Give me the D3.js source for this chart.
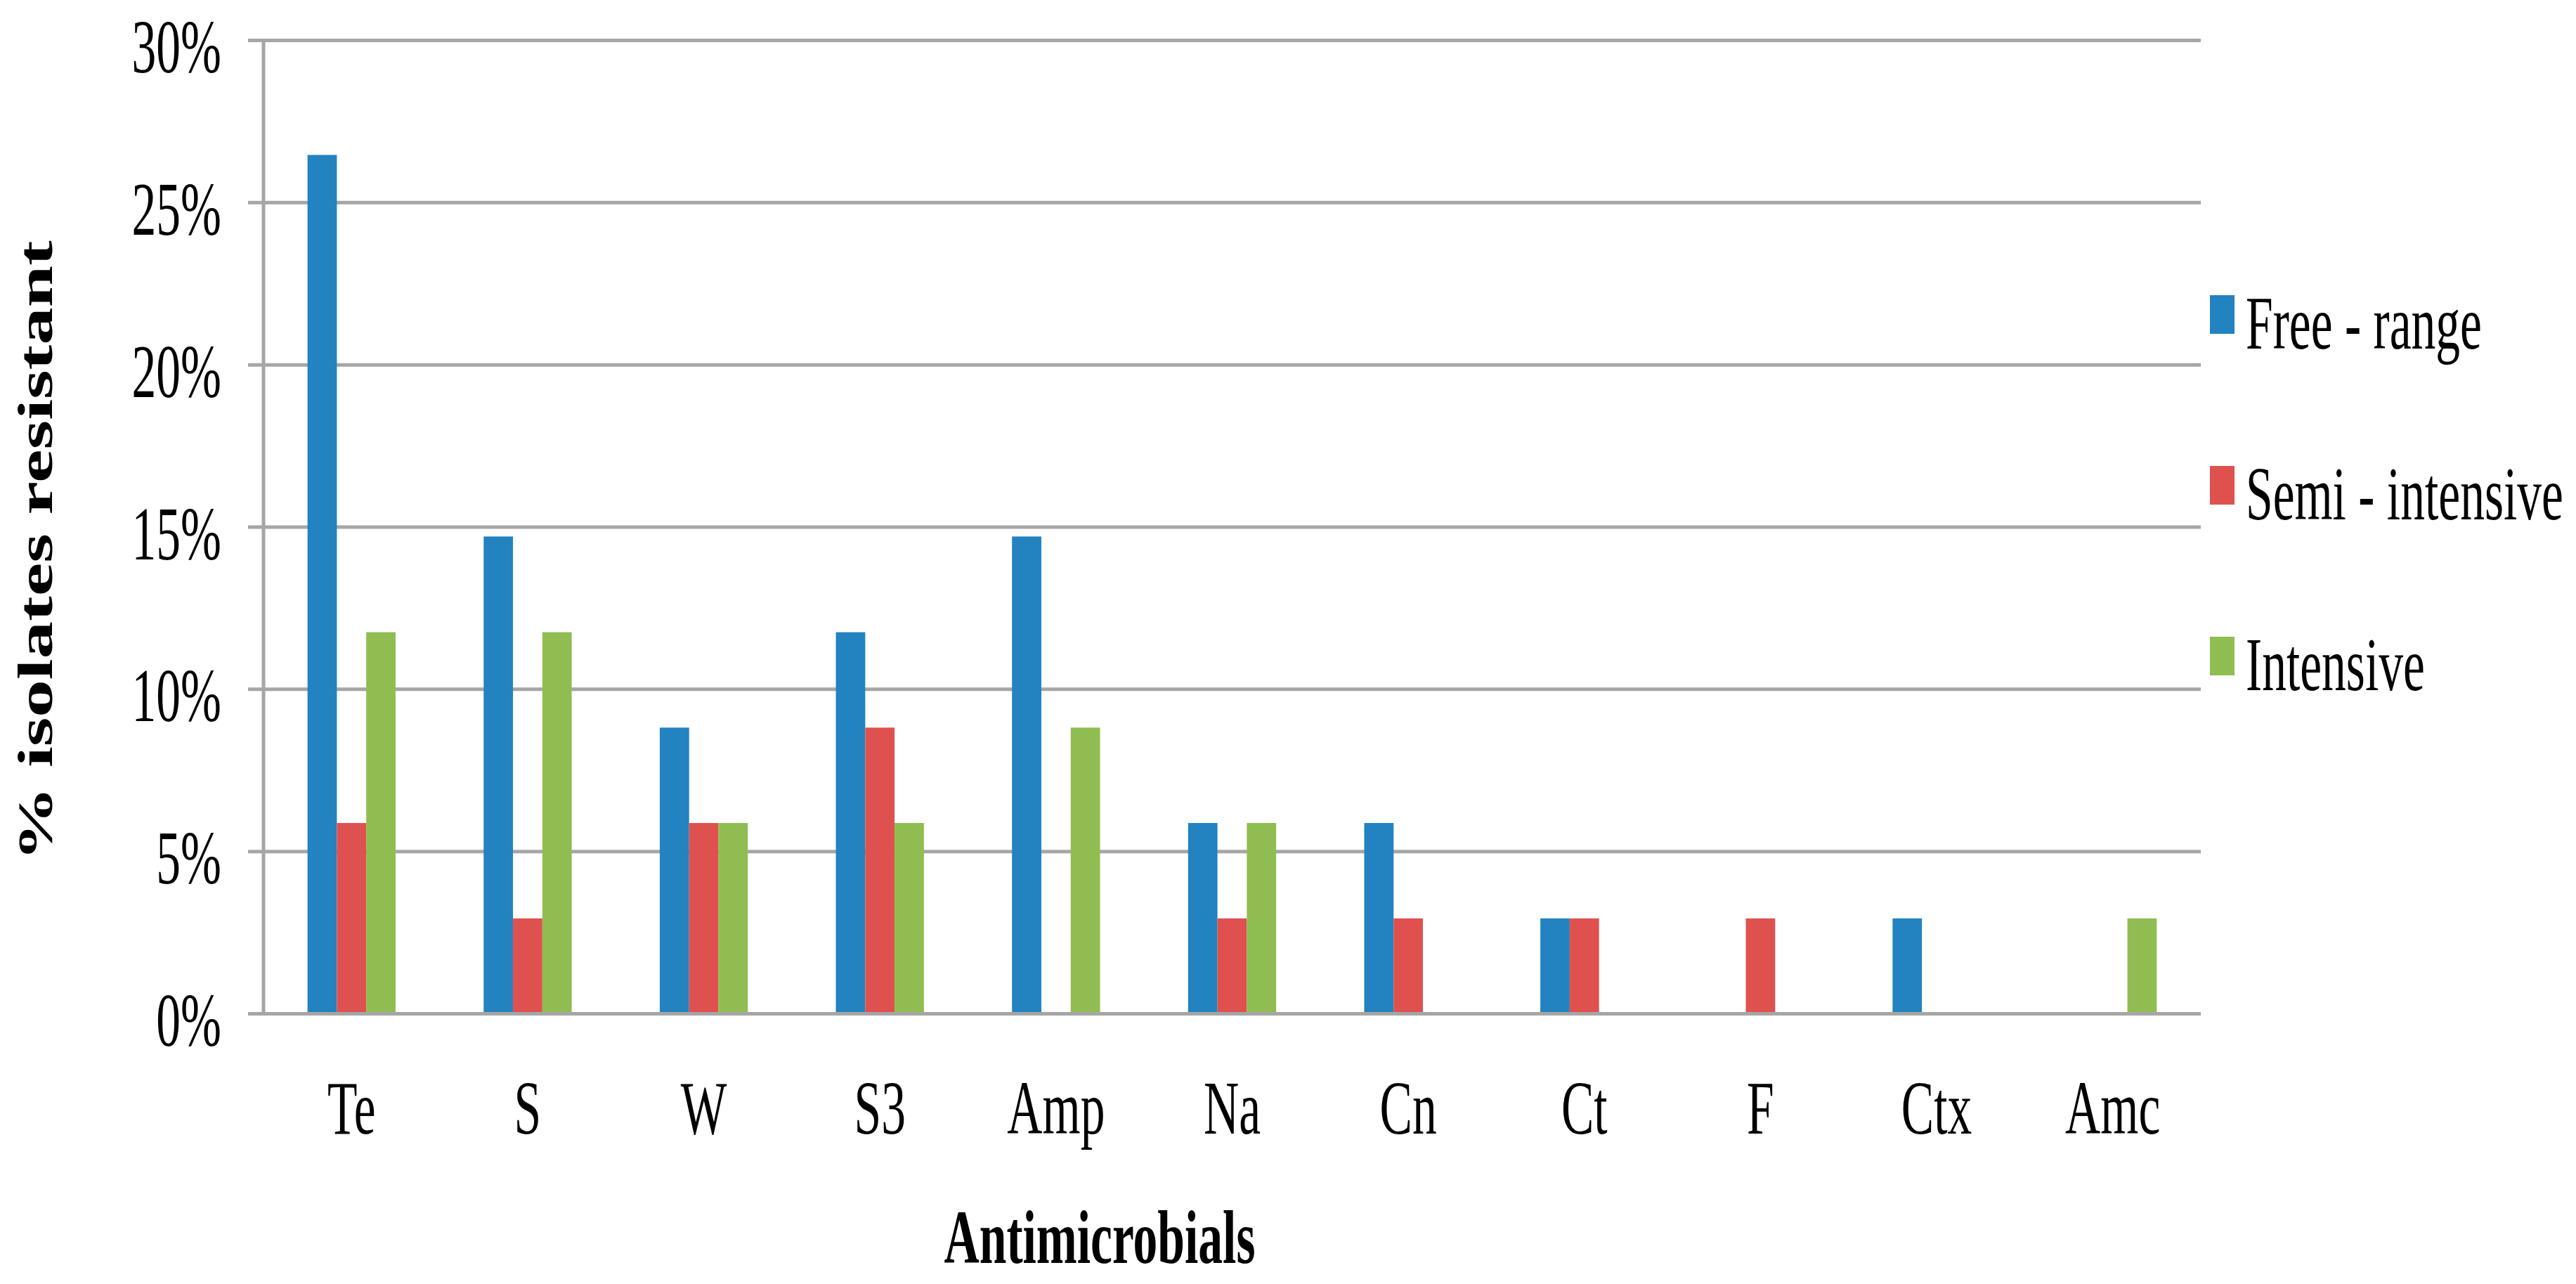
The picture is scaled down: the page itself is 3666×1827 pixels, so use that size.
<!DOCTYPE html>
<html>
<head>
<meta charset="utf-8">
<script src="https://cdn.jsdelivr.net/npm/d3@7"></script>
<style>
  html, body { margin: 0; padding: 0; background: #ffffff; }
  svg { display: block; }
  text { font-family: "Liberation Serif", "Times New Roman", serif; fill: #000; }
</style>
</head>
<body>
<svg id="chart" width="3666" height="1827"></svg>
<script>
// ---- data ----
const categories = ["Te", "S", "W", "S3", "Amp", "Na", "Cn", "Ct", "F", "Ctx", "Amc"];
const seriesNames = ["Free - range", "Semi - intensive", "Intensive"];
const freeRange     = [26.47, 14.71, 8.82, 11.76, 14.71, 5.88, 5.88, 2.94, 0,    2.94, 0];
const semiIntensive = [5.88,  2.94,  5.88, 8.82,  0,     2.94, 2.94, 2.94, 2.94, 0,    0];
const intensive     = [11.76, 11.76, 5.88, 5.88,  8.82,  5.88, 0,    0,    0,    0,    2.94];
const yTicks = [0, 5, 10, 15, 20, 25, 30];
const yTickLabels = ["0%", "5%", "10%", "15%", "20%", "25%", "30%"];
const colors = ["#2382c0", "#de514f", "#8fbd51"];
const xTitle = "Antimicrobials";
const yTitle = "% isolates resistant";

const seriesValues = [freeRange, semiIntensive, intensive];

// ---- layout ----
const svg = d3.select("#chart");
const SX = 0.65;      // horizontal squeeze of the original glyphs
const FS = 107;
const plot = { left: 375, right: 3132, top: 57.5, bottom: 1442.5 };

const x = d3.scaleBand().domain(categories).range([plot.left, plot.right])
  .paddingInner(0.5).paddingOuter(0.25);
const xs = d3.scaleBand().domain(seriesNames).range([0, x.bandwidth()]);
const y = d3.scaleLinear().domain([0, 30]).range([plot.bottom, plot.top]);

function squeezedText(sel, tx, ty, extra) {
  return sel.attr("transform", d => `translate(${tx(d)},${ty(d)}) scale(${SX},1)` + (extra || ""));
}

// gridlines
svg.append("g").selectAll("line").data(yTicks).join("line")
  .attr("x1", plot.left - 22).attr("x2", plot.right)
  .attr("y1", d => y(d)).attr("y2", d => y(d))
  .attr("stroke", "#a6a6a6").attr("stroke-width", 5);

// y axis line
svg.append("line")
  .attr("x1", plot.left).attr("x2", plot.left)
  .attr("y1", plot.top).attr("y2", plot.bottom)
  .attr("stroke", "#a6a6a6").attr("stroke-width", 5);

// bars
const rows = categories.map((c, i) => ({ cat: c, vals: seriesValues.map((s, k) => ({ name: seriesNames[k], k, v: s[i] })) }));
const groups = svg.append("g").selectAll("g").data(rows).join("g")
  .attr("transform", d => `translate(${x(d.cat)},0)`);
groups.selectAll("rect").data(d => d.vals.filter(e => e.v > 0)).join("rect")
  .attr("x", d => xs(d.name))
  .attr("width", xs.bandwidth())
  .attr("y", d => y(d.v))
  .attr("height", d => y(0) - y(d.v) - 2.5)
  .attr("fill", d => colors[d.k]);

// redraw baseline over bars
svg.append("line")
  .attr("x1", plot.left - 22).attr("x2", plot.right)
  .attr("y1", y(0)).attr("y2", y(0))
  .attr("stroke", "#a6a6a6").attr("stroke-width", 5);

// y tick labels
squeezedText(svg.append("g").selectAll("text").data(yTicks).join("text"),
    () => 315, d => y(d) + 45.5)
  .attr("text-anchor", "end").attr("font-size", FS)
  .text((d, i) => yTickLabels[i]);

// x tick labels
squeezedText(svg.append("g").selectAll("text").data(categories).join("text"),
    d => x(d) + x.bandwidth() / 2, () => 1613)
  .attr("text-anchor", "middle").attr("font-size", FS)
  .text(d => d);

// axis titles
svg.append("text")
  .attr("transform", `translate(1565,1797) scale(${SX},1)`)
  .attr("text-anchor", "middle").attr("font-size", FS).attr("font-weight", "bold")
  .text(xTitle);
svg.append("text")
  .attr("transform", `translate(74,784) scale(${SX},1) rotate(-90)`)
  .attr("text-anchor", "middle").attr("font-size", FS).attr("font-weight", "bold")
  .text(yTitle);

// legend
const legend = svg.append("g").selectAll("g").data(seriesNames).join("g")
  .attr("transform", (d, i) => `translate(3145,${420 + i * 243})`);
legend.append("rect").attr("width", 35).attr("height", 55)
  .attr("fill", (d, i) => colors[i]);
legend.append("text")
  .attr("transform", `translate(51,76) scale(${SX},1)`)
  .attr("font-size", FS).text(d => d);
</script>
</body>
</html>
